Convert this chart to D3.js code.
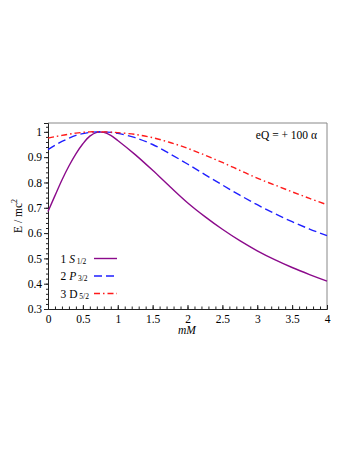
<!DOCTYPE html>
<html>
<head>
<meta charset="utf-8">
<script src="https://cdn.jsdelivr.net/npm/d3@7"></script>
<style>
  body { margin: 0; background: #fff; }
  text { font-family: "Liberation Serif", "DejaVu Serif", serif; fill: #000; }
</style>
</head>
<body>
<div class="chart"></div>
<script>
// values
var xs   = [0, 0.1, 0.2, 0.3, 0.4, 0.5, 0.6, 0.7, 0.8, 0.9, 1.0, 1.25, 1.5, 1.75, 2.0, 2.25, 2.5, 2.75, 3.0, 3.25, 3.5, 3.75, 4.0];
var s12  = [0.685, 0.748, 0.81, 0.865, 0.913, 0.953, 0.983, 0.998, 0.998, 0.986, 0.966, 0.91, 0.848, 0.783, 0.72, 0.665, 0.615, 0.57, 0.53, 0.495, 0.464, 0.436, 0.41];
var p32  = [0.93, 0.947, 0.962, 0.975, 0.986, 0.993, 0.998, 1.0, 1.0, 0.998, 0.994, 0.977, 0.95, 0.913, 0.873, 0.831, 0.79, 0.75, 0.712, 0.677, 0.645, 0.616, 0.59];
var d52  = [0.975, 0.981, 0.986, 0.991, 0.995, 0.998, 1.0, 1.0, 1.0, 0.999, 0.997, 0.99, 0.977, 0.958, 0.935, 0.908, 0.879, 0.848, 0.817, 0.79, 0.763, 0.737, 0.712];
var xTicks = [0, 0.5, 1, 1.5, 2, 2.5, 3, 3.5, 4];
var yTicks = [0.3, 0.4, 0.5, 0.6, 0.7, 0.8, 0.9, 1];

var series = [
    {main: "1 ", it: "S", sub: "1/2", italic: true, vals: s12, color: "#8b0a8b", dash: null},
    {main: "2 ", it: "P", sub: "3/2", italic: true, vals: p32, color: "#1f1fff", dash: "8,4"},
    {main: "3 ", it: "D", sub: "5/2", italic: false, vals: d52, color: "#ff1a1a", dash: "6,3,1.5,3"}
];

var W = 353, H = 457;
var margin = {top: 123, right: 26, bottom: 148, left: 48},
    width = W - margin.left - margin.right,
    height = H - margin.top - margin.bottom;

var svg = d3.select(".chart").append("svg")
    .attr("width", W)
    .attr("height", H)
    .attr("font-family", "Liberation Serif");

var g = svg.append("g")
    .attr("transform", "translate(" + margin.left + "," + margin.top + ")");

var x = d3.scaleLinear().domain([0, 4]).range([0, width]);
var y = d3.scaleLinear().domain([0.3, 1.035]).range([height, 0]);

// frame on top and right
g.append("path")
    .attr("d", "M0,0H" + width + "V" + height)
    .attr("fill", "none")
    .attr("stroke", "#888")
    .attr("stroke-width", 1);

// minor ticks
g.append("g")
    .attr("transform", "translate(0," + height + ")")
    .call(d3.axisBottom(x).tickValues(d3.range(0, 4.001, 0.1)).tickSize(-2.5).tickFormat(""))
    .call(s => s.select(".domain").remove());
g.append("g")
    .call(d3.axisLeft(y).tickValues(d3.range(0.3, 1.031, 0.02)).tickSize(2).tickFormat(""))
    .call(s => s.select(".domain").remove());

// x axis
var xAxis = g.append("g")
    .attr("transform", "translate(0," + height + ")")
    .call(d3.axisBottom(x).tickValues(xTicks).tickSize(-4).tickPadding(6).tickFormat(d3.format("")));
xAxis.attr("font-family", null);
xAxis.selectAll("text").attr("font-size", 11.5);

// y axis
var yAxis = g.append("g")
    .call(d3.axisLeft(y).tickValues(yTicks).tickSize(4).tickPadding(2).tickFormat(d3.format("")));
yAxis.attr("font-family", null);
yAxis.selectAll("text").attr("font-size", 11.5);
svg.selectAll(".domain").attr("stroke", "#222");
svg.selectAll(".tick line").attr("stroke", "#222");

// curves
var line = d3.line()
    .x(function (d, i) { return x(xs[i]); })
    .y(function (d) { return y(d); })
    .curve(d3.curveCatmullRom.alpha(0.5));

series.forEach(function (s) {
    g.append("path")
        .attr("d", line(s.vals))
        .attr("fill", "none")
        .attr("stroke", s.color)
        .attr("stroke-width", 1.4)
        .attr("stroke-dasharray", s.dash);
});

// legend
series.forEach(function (s, i) {
    var ly = 258.5 + i * 17.5;
    var t = svg.append("text")
        .attr("x", 60.5)
        .attr("y", ly + 4)
        .attr("font-size", 11.5);
    t.append("tspan").text(s.main);
    t.append("tspan").text(s.it).attr("font-style", s.italic ? "italic" : "normal");
    t.append("tspan").text(" " + s.sub).attr("font-size", 7.5).attr("dy", 1);
    svg.append("line")
        .attr("x1", 94).attr("x2", 117)
        .attr("y1", ly).attr("y2", ly)
        .attr("stroke", s.color)
        .attr("stroke-width", 1.4)
        .attr("stroke-dasharray", s.dash);
});

// annotation
svg.append("text")
    .attr("x", 317)
    .attr("y", 139)
    .attr("text-anchor", "end")
    .attr("font-size", 11.5)
    .text("eQ = + 100 α");

// axis titles
svg.append("text")
    .attr("x", 187)
    .attr("y", 334)
    .attr("text-anchor", "middle")
    .attr("font-size", 11.5)
    .attr("font-style", "italic")
    .text("mM");

var yl = svg.append("text")
    .attr("transform", "translate(22,216) rotate(-90)")
    .attr("text-anchor", "middle")
    .attr("font-size", 11.5);
yl.append("tspan").text("E / mc");
yl.append("tspan").text("2").attr("font-size", 8).attr("dy", -5);
</script>
</body>
</html>
